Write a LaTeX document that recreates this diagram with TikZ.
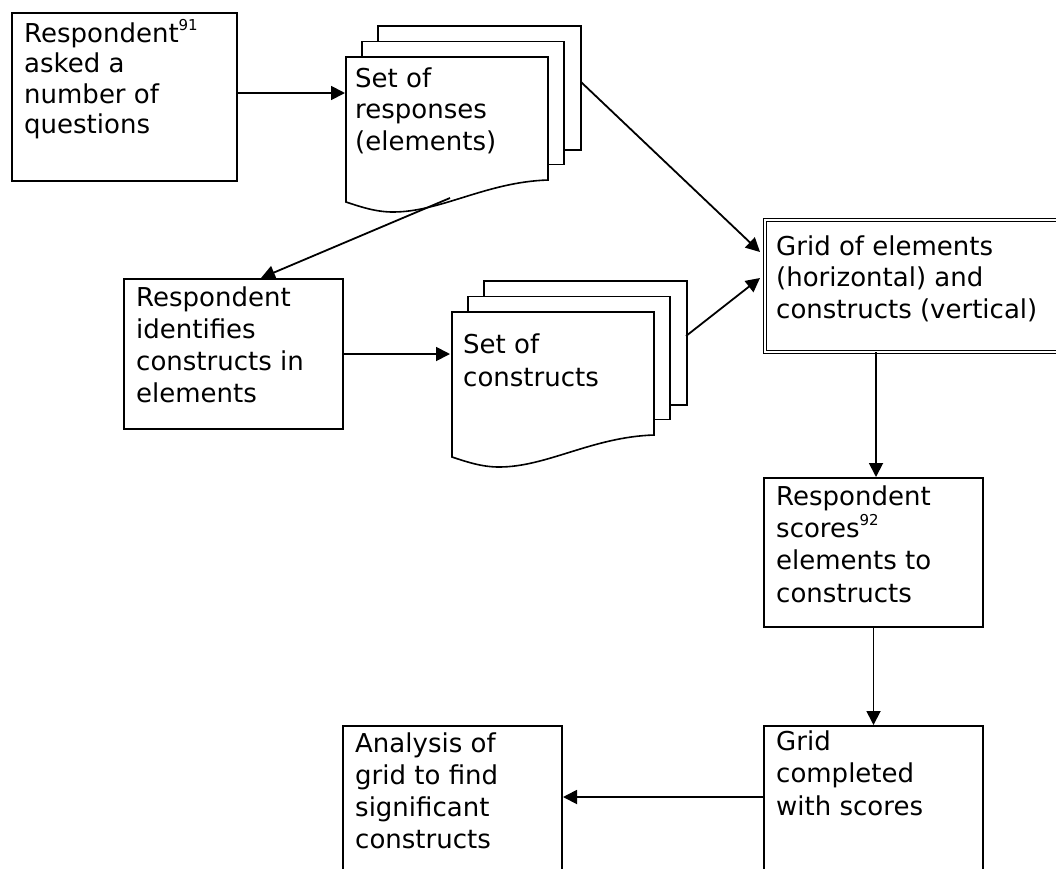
\documentclass[tikz,border=0pt]{standalone}
\usepackage{fontspec}
\setmainfont{DejaVu Sans}
\usetikzlibrary{arrows.meta,calc}

% raised footnote number
\newcommand\fnref[1]{\raisebox{12pt}{\fontsize{15}{15}\selectfont #1}}
% fixes the height of a first text line
\newcommand\topstrut{\rule{0pt}{26pt}}

% a stack of three pages, the front one with a wavy bottom edge;
% #1,#2 = top-left corner of the front page
\newcommand\docstack[2]{%
  \begin{scope}[shift={(#1,#2)}]
    \draw[doc] (32,-31) rectangle ++(203,124);
    \draw[doc] (16,-15.5) rectangle ++(202,123);
    \draw[doc] (0,0) -- (202,0) -- (202,123)
      .. controls (140,125) and (95,155) .. (47,155)
      .. controls (30,155) and (15,150) .. (0,145) -- cycle;
  \end{scope}}

\begin{document}
\begin{tikzpicture}[x=1pt,y=-1pt,
  box/.style={draw, line width=2pt, inner sep=0pt, anchor=north west},
  gridbox/.style={draw, line width=1.4pt, double, double distance=1.6pt,
                  inner sep=0pt, anchor=north west},
  boxtext/.style={anchor=north west, inner sep=0pt, align=left,
                  font=\fontsize{26}{#1}\selectfont},
  boxtext/.default=32,
  doc/.style={draw, line width=1.6pt, fill=white},
  flow/.style={line width=1.8pt, -{Triangle[length=14pt,width=14pt]}},
]
\fill[white] (0,0) rectangle (1056,868);
\clip (0,0) rectangle (1056,868);

% process boxes
\node[box, minimum width=225pt, minimum height=168pt] (b1) at (11,12) {};
\node[box, minimum width=219pt, minimum height=150pt] (b2) at (123,278) {};
\node[gridbox, minimum width=330pt, minimum height=132pt] (grid) at (764,219) {};
\node[box, minimum width=219pt, minimum height=149pt] (b3) at (763,477) {};
\node[box, minimum width=219pt, minimum height=200pt] (b4) at (763,725) {};
\node[box, minimum width=219pt, minimum height=200pt] (b5) at (342,725) {};

% document stacks
\docstack{346}{57}
\docstack{452}{312}

% texts
\node[boxtext=30.5] (t1) at (24,16)
  {\topstrut Respondent\fnref{91}\\asked a\\number of\\questions};
\node[boxtext=31.5] (ts1) at (355,61)
  {\topstrut Set of\\responses\\(elements)};
\node[boxtext=32] (t2) at (136,280)
  {\topstrut Respondent\\identifies\\constructs in\\elements};
\node[boxtext=33] (ts2) at (463,327)
  {\topstrut Set of\\constructs};
\node[boxtext=31.5] (tg) at (776,229)
  {\topstrut Grid of elements\\(horizontal) and\\constructs (vertical)};
\node[boxtext=32.3] (t3) at (776,479)
  {\topstrut Respondent\\scores\fnref{92}\\elements to\\constructs};
\node[boxtext=32.5] (t4) at (776,724)
  {\topstrut Grid\\completed\\with scores};
\node[boxtext=32] (t5) at (355,726)
  {\topstrut Analysis of\\grid to find\\significant\\constructs};

% connector end points on the document stacks and the grid box
\coordinate (s1in) at (345,93);
\coordinate (s1out) at (581,82);
\coordinate (s1low) at (450,198);
\coordinate (b2in) at (261,0);
\coordinate (s2in) at (450,354);
\coordinate (s2out) at (686,336);
\coordinate (gin1) at (760,252);
\coordinate (gin2) at (760,278);
\coordinate (gx) at (876,0);
\coordinate (ly) at (0,797);

% connectors
\draw[flow] (b1.east |- s1in) -- (s1in);
\draw[flow] (s1out) -- (gin1);
\draw[flow] (s1low) -- (b2in |- b2.north);
\draw[flow] (b2.east |- s2in) -- (s2in);
\draw[flow] (s2out) -- (gin2);
\draw[flow] (gx |- grid.south) -- (gx |- b3.north);
\draw[flow] (b3.south) -- (b4.north);
\draw[flow] (b4.west |- ly) -- (b5.east |- ly);
\end{tikzpicture}
\end{document}
